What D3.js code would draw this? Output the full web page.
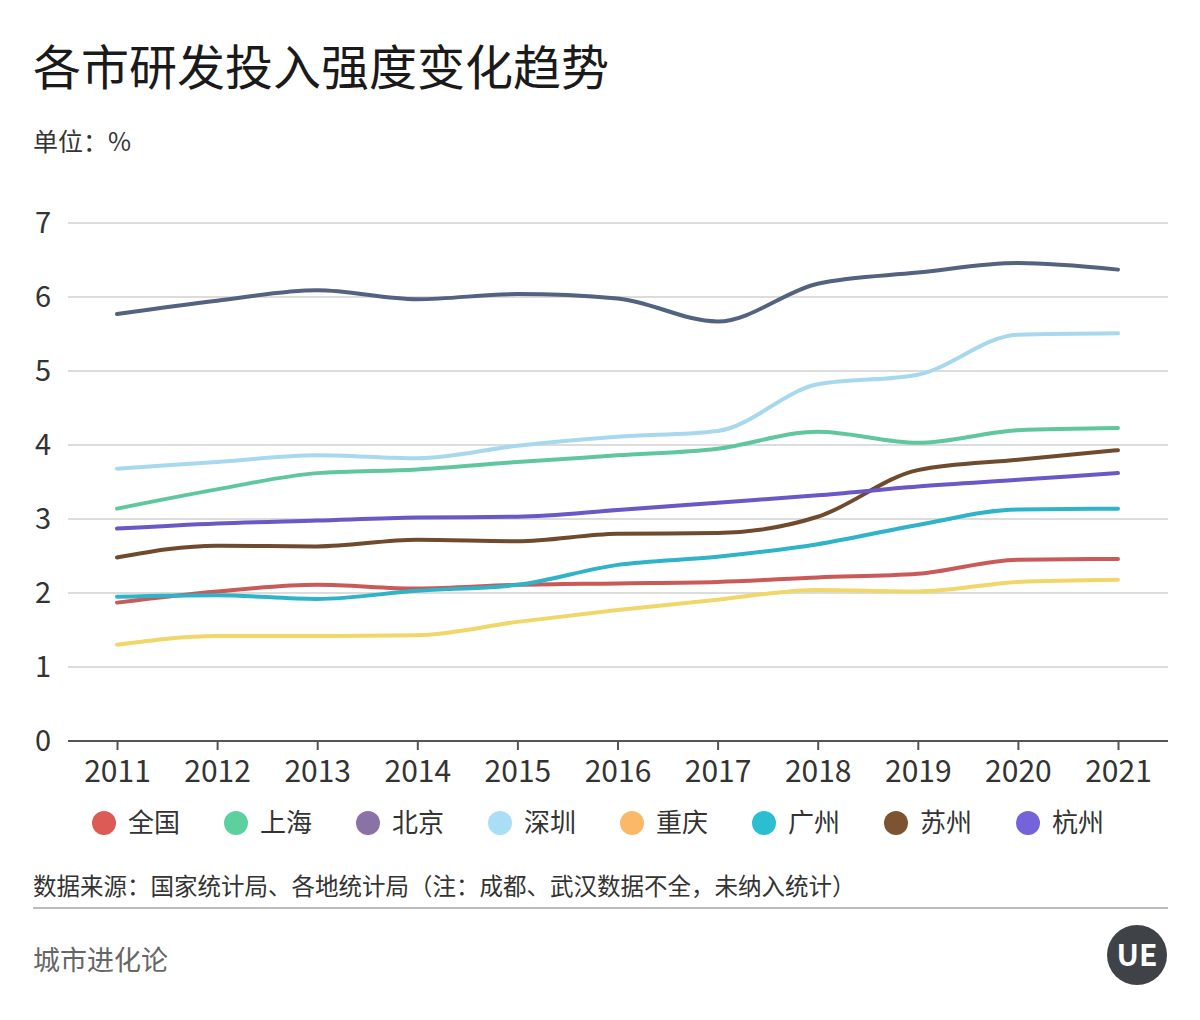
<!DOCTYPE html>
<html><head><meta charset="utf-8">
<script src="https://cdn.jsdelivr.net/npm/d3@7"></script>
<style>
html,body{margin:0;padding:0;background:#fff;}
svg{display:block;font-family:"Noto Sans CJK SC","Noto Sans",sans-serif;}
</style></head>
<body><svg id="c" width="1200" height="1020"></svg>
<script>
const years = [2011,2012,2013,2014,2015,2016,2017,2018,2019,2020,2021];
const yTicks = [0,1,2,3,4,5,6,7];
const seriesNames = ["全国","上海","北京","深圳","重庆","广州","苏州","杭州"];
const lineColors = ["#c95a58","#5fc79e","#53627f","#a8d8ee","#f1d66a","#2fb3c8","#6f4a2c","#6a58c6"];
const legendColors = ["#dd5b55","#5dd0a0","#8a72a6","#a9def4","#fbb868","#2bbdd0","#7d5431","#7463d9"];
const quanguo  = [1.87,2.02,2.11,2.06,2.11,2.13,2.15,2.21,2.26,2.45,2.46];
const shanghai = [3.14,3.40,3.62,3.67,3.77,3.86,3.95,4.18,4.03,4.20,4.23];
const beijing  = [5.77,5.95,6.09,5.97,6.04,5.98,5.67,6.18,6.33,6.46,6.37];
const shenzhen = [3.68,3.77,3.86,3.82,3.99,4.11,4.19,4.82,4.95,5.49,5.51];
const chongqing= [1.30,1.42,1.42,1.43,1.61,1.77,1.91,2.04,2.02,2.15,2.18];
const guangzhou= [1.95,1.97,1.92,2.03,2.11,2.38,2.49,2.66,2.92,3.13,3.14];
const suzhou   = [2.48,2.64,2.63,2.72,2.70,2.80,2.81,3.03,3.66,3.80,3.93];
const hangzhou = [2.87,2.94,2.98,3.02,3.03,3.12,3.22,3.32,3.44,3.53,3.62];
const seriesValues = [quanguo,shanghai,beijing,shenzhen,chongqing,guangzhou,suzhou,hangzhou];
const titleText = "各市研发投入强度变化趋势";
const unitText = "单位：%";
const sourceText = "数据来源：国家统计局、各地统计局（注：成都、武汉数据不全，未纳入统计）";
const brandText = "城市进化论";

const svg = d3.select("#c");
const pLeft = 68, pRight = 1168, pTop = 223, pBottom = 741;
const x = d3.scalePoint().domain(years).range([117, 1118]);
const y = d3.scaleLinear().domain([0,7]).range([pBottom, pTop]);

// title
svg.append("text").attr("x",33).attr("y",85).attr("font-size",48).attr("font-weight",400)
  .attr("fill","#1a1a1a").text(titleText);
svg.append("text").attr("x",33).attr("y",151).attr("font-size",25)
  .attr("fill","#333").text(unitText);

// grid
svg.append("g").selectAll("line").data(yTicks.filter(d=>d>0)).join("line")
  .attr("x1",pLeft).attr("x2",pRight).attr("y1",d=>y(d)).attr("y2",d=>y(d))
  .attr("stroke","#dcdcdc").attr("stroke-width",2);

// y labels
svg.append("g").selectAll("text").data(yTicks).join("text")
  .attr("x",51).attr("y",d=>y(d)).attr("dy","0.36em").attr("text-anchor","end")
  .attr("font-size",29).attr("fill","#333").text(d=>d);

// x axis
const xAxis = d3.axisBottom(x).tickSize(9).tickPadding(11);
const gx = svg.append("g").attr("transform",`translate(0,${pBottom})`).call(xAxis);
gx.select(".domain").attr("d",`M${pLeft},0H${pRight}`).attr("stroke","#555").attr("stroke-width",2);
gx.selectAll(".tick line").attr("stroke","#555").attr("stroke-width",2);
gx.selectAll(".tick text").attr("font-size",30).attr("fill","#333")
  .attr("font-family",'"Noto Sans CJK SC","Noto Sans",sans-serif');

// lines
const line = d3.line().x((d,i)=>x(years[i])).y(d=>y(d)).curve(d3.curveMonotoneX);
svg.append("g").selectAll("path").data(seriesValues).join("path")
  .attr("d",d=>line(d)).attr("fill","none")
  .attr("stroke",(d,i)=>lineColors[i]).attr("stroke-width",4)
  .attr("stroke-linecap","round").attr("stroke-linejoin","round");

// legend
const lg = svg.append("g").selectAll("g").data(seriesNames).join("g")
  .attr("transform",(d,i)=>`translate(${104 + i*132},823)`);
lg.append("circle").attr("r",12).attr("fill",(d,i)=>legendColors[i]);
lg.append("text").attr("x",24).attr("dy","0.36em").attr("font-size",26)
  .attr("fill","#333").text(d=>d);

// source
svg.append("text").attr("x",33).attr("y",895).attr("font-size",23.5)
  .attr("fill","#333").text(sourceText);
svg.append("line").attr("x1",33).attr("x2",1168).attr("y1",908).attr("y2",908)
  .attr("stroke","#bbb").attr("stroke-width",2);
svg.append("text").attr("x",33).attr("y",970).attr("font-size",27)
  .attr("fill","#666").text(brandText);

// logo
const logo = svg.append("g").attr("transform","translate(1137,955)");
logo.append("circle").attr("r",30).attr("fill","#3f4247");
logo.append("text").attr("text-anchor","middle").attr("dy","0.36em").attr("font-size",30)
  .attr("font-weight",700).attr("fill","#fff").text("UE");
</script></body></html>
